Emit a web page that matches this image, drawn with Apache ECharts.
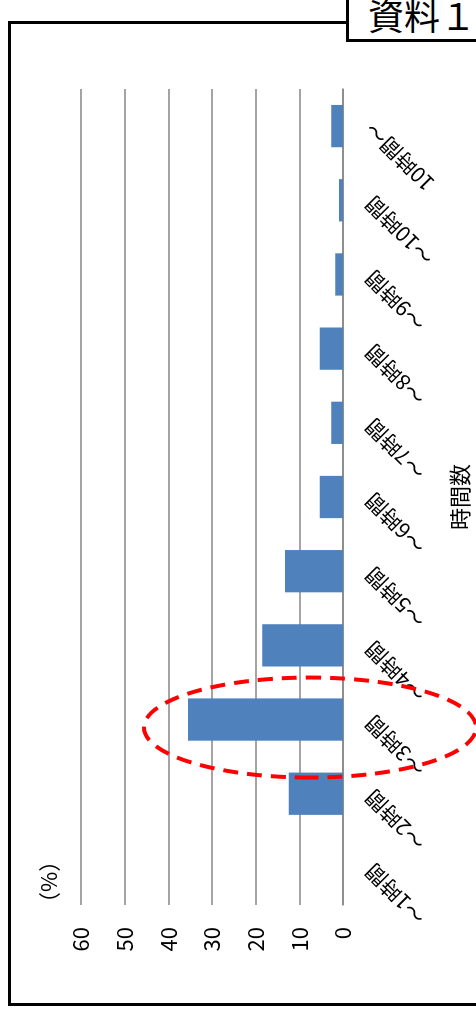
<!DOCTYPE html>
<html>
<head>
<meta charset="utf-8">
<script src="https://cdn.jsdelivr.net/npm/echarts@6.0.0/dist/echarts.min.js"></script>
<style>
html, body { margin:0; padding:0; width:476px; height:1009px; overflow:hidden; background:#fff; }
#frame { position:absolute; left:8px; top:21px; width:480px; height:979px; border:3px solid #000; }
/* chart is drawn upright (1009x476) then turned 90deg counter-clockwise */
#chart { position:absolute; left:0; top:0; width:1009px; height:476px;
         transform-origin:0 0; transform:translateY(1009px) rotate(-90deg); }
#tag { position:absolute; left:346px; top:-10px; width:140px; height:46px;
       border:3px solid #000; background:#fff; }
#tag span { position:absolute; left:19px; top:3px; font-family:"Noto Sans CJK JP"; font-size:36px; line-height:36px; color:#000; }
</style>
</head>
<body>
<div id="frame"></div>
<div id="chart"></div>
<div id="tag"><span>資料１</span></div>
<script>
// 時間数カテゴリ
var hours = ['～1時間', '～2時間', '～3時間', '～4時間', '～5時間', '～6時間',
             '～7時間', '～8時間', '～9時間', '～10時間', '10時間～'];
// 割合(%)
var rates = [0, 12.4, 35.5, 18.5, 13.3, 5.3, 2.7, 5.3, 1.8, 0.9, 2.7];
// 目盛
var valMin = 0, valMax = 60, valStep = 10;
// 丸で囲むカテゴリ
var markCat = '～3時間';

var font = '"Noto Sans CJK JP", "Noto Sans", sans-serif';
var myChart = echarts.init(document.getElementById('chart'));
var option = {
    animation: false,
    grid: { left: 104, right: 89, top: 81, bottom: 130 },
    xAxis: {
        type: 'category',
        data: hours,
        name: '時間数',
        nameLocation: 'middle',
        nameGap: 106,
        nameTextStyle: { fontFamily: font, fontSize: 22, color: '#000' },
        axisLine: { lineStyle: { color: '#868686', width: 1.5 } },
        axisTick: { show: false },
        axisLabel: { interval: 0, rotate: 45, margin: 26, fontFamily: font, fontSize: 21, color: '#000' }
    },
    yAxis: {
        type: 'value',
        min: valMin,
        max: valMax,
        interval: valStep,
        axisLine: { show: false },
        axisTick: { show: false },
        axisLabel: { margin: 22, fontFamily: font, fontSize: 22, color: '#000' },
        splitLine: { lineStyle: { color: '#868686', width: 1.5 } }
    },
    series: [{
        type: 'bar',
        data: rates,
        barCategoryGap: '43%',
        itemStyle: { color: '#4F81BD' }
    }]
};
myChart.setOption(option);

// 赤い点線の楕円 (3時間のバーとラベルを囲む)
var p = myChart.convertToPixel({ gridIndex: 0 }, [markCat, 0]);
myChart.setOption({
    graphic: [{
        type: 'text',
        left: 95,
        top: 38,
        style: { text: '（%）', fontFamily: font, fontSize: 22, fill: '#000' }
    }, {
        type: 'ellipse',
        shape: { cx: p[0] - 8, cy: p[1] - 33, rx: 50, ry: 166 },
        style: { fill: 'none', stroke: '#FF0000', lineWidth: 4, lineDash: [15, 9] },
        z: 10
    }]
});
</script>
</body>
</html>
